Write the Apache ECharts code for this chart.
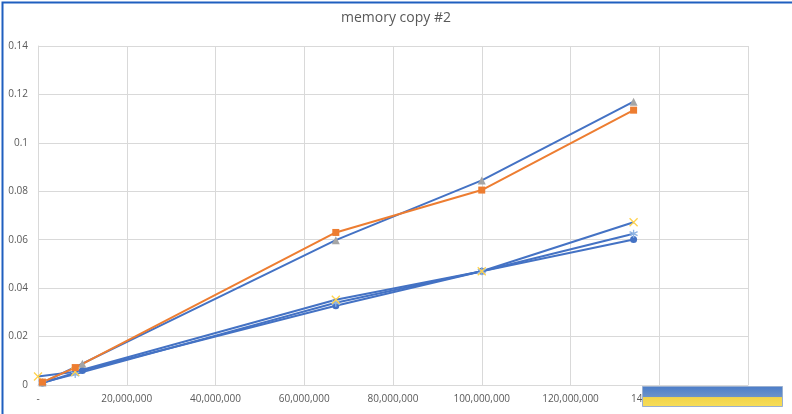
<!DOCTYPE html>
<html><head><meta charset="utf-8">
<script src="https://cdn.jsdelivr.net/npm/echarts@6/dist/echarts.min.js"></script>
<style>html,body{margin:0;padding:0;background:#fff}#c{width:792px;height:414px}</style>
</head><body><div id="c"></div>
<script>
var title = "memory copy #2";
var xTickMax = 160000000;
var xTickInterval = 20000000;
var yTickMax = 0.14;
var yTickInterval = 0.02;

// series values: [size, seconds]
var seriesTriangle = [[1000000,0.001],[10000000,0.0088],[67108864,0.0598],[100000000,0.0845],[134217728,0.117]];
var seriesSquare   = [[1000000,0.0012],[8388608,0.0072],[67108864,0.063],[100000000,0.0805],[134217728,0.1135]];
var seriesCross    = [[0,0.0035],[8388608,0.0055],[67108864,0.0352],[100000000,0.047],[134217728,0.0672]];
var seriesStar     = [[1000000,0.001],[8388608,0.0045],[67108864,0.034],[100000000,0.047],[134217728,0.0625]];
var seriesCircle   = [[1000000,0.0008],[10000000,0.006],[67108864,0.0327],[100000000,0.047],[134217728,0.0601]];

var blue='#4472C4', orange='#ED7D31', gray='#A5A5A5', yellow='#FFD24D', lblue='#8FB4E3';
var xSym='path://M0,0L10,10M10,0L0,10';
var starSym='path://M5,0L5,10M0,2.5L10,7.5M10,2.5L0,7.5';

function mk(name,data,lineColor,sym,symColor,size,stroke){
  return {name:name,type:'line',data:data,showSymbol:true,symbol:sym,symbolSize:size,
    lineStyle:{color:lineColor,width:2},
    itemStyle:stroke?{color:'rgba(0,0,0,0)',borderColor:symColor,borderWidth:1.3}:{color:symColor,borderWidth:0},
    emphasis:{disabled:true},animation:false};
}
var chart = echarts.init(document.getElementById('c'),null,{renderer:'canvas'});
chart.setOption({
  animation:false,
  title:{text:title,left:'center',top:6,textStyle:{fontFamily:'Open Sans',fontWeight:'normal',fontSize:14,color:'#595959'}},
  grid:{left:38,right:44,top:46,bottom:29,containLabel:false},
  xAxis:{type:'value',min:0,max:xTickMax,interval:xTickInterval,
    axisLine:{show:true,lineStyle:{color:'#d9d9d9'}},axisTick:{show:false},
    splitLine:{show:true,lineStyle:{color:'#d9d9d9',width:1}},
    axisLabel:{color:'#595959',fontSize:10,fontFamily:'Open Sans',margin:9,
      formatter:function(v){return v===0?'-':v.toLocaleString('en-US');}}},
  yAxis:{type:'value',min:0,max:yTickMax,interval:yTickInterval,
    axisLine:{show:true,lineStyle:{color:'#d9d9d9'}},axisTick:{show:false},
    splitLine:{show:true,lineStyle:{color:'#d9d9d9',width:1}},
    axisLabel:{color:'#595959',fontSize:10,fontFamily:'Open Sans',margin:10,
      formatter:function(v){return Math.round(v*100)/100+'';}}},
  series:[
    mk('circle',seriesCircle,blue,'circle',blue,7,false),
    mk('star',seriesStar,blue,starSym,lblue,8,true),
    mk('cross',seriesCross,blue,xSym,yellow,8,true),
    mk('triangle',seriesTriangle,blue,'triangle',gray,8,false),
    mk('square',seriesSquare,orange,'rect',orange,7,false)
  ],
  graphic:[
    {type:'rect',left:0,top:0,shape:{width:791,height:413},style:{fill:'none',stroke:'#1F5FBF',lineWidth:2},z:100},
    {type:'rect',left:642,top:386,shape:{width:140,height:20},
      style:{fill:{type:'linear',x:0,y:0,x2:0,y2:1,colorStops:[{offset:0,color:'#4A7CC9'},{offset:0.5,color:'#6B92C8'},{offset:0.55,color:'#F2D44A'},{offset:1,color:'#F7DE5A'}]},stroke:'#9AB0D0',lineWidth:1},z:100}
  ]
});
</script></body></html>
